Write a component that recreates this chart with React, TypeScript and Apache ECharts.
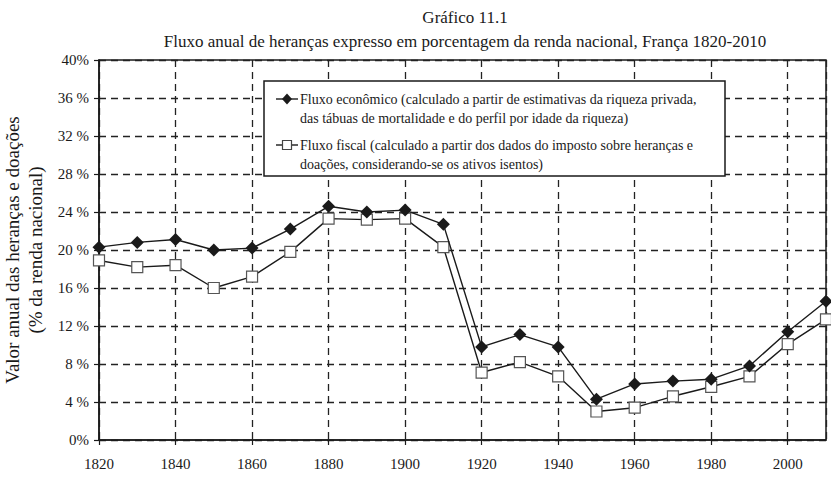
import React, { useEffect, useRef } from "react";
import * as echarts from "echarts";

const years = [1820, 1830, 1840, 1850, 1860, 1870, 1880, 1890, 1900, 1910, 1920, 1930, 1940, 1950, 1960, 1970, 1980, 1990, 2000, 2010];
const economicFlow = [20.3, 20.8, 21.1, 20.0, 20.2, 22.2, 24.6, 24.0, 24.2, 22.7, 9.8, 11.1, 9.8, 4.3, 5.9, 6.2, 6.4, 7.8, 11.4, 14.6];
const fiscalFlow = [18.9, 18.2, 18.4, 16.0, 17.2, 19.8, 23.3, 23.2, 23.3, 20.3, 7.1, 8.2, 6.7, 3.0, 3.4, 4.6, 5.6, 6.7, 10.1, 12.7];

const titleLine1 = "Gráfico 11.1";
const titleLine2 = "Fluxo anual de heranças expresso em porcentagem da renda nacional, França 1820-2010";
const yAxisTitle = "Valor anual das heranças e doações\n(% da renda nacional)";
const economicLabel = "Fluxo econômico (calculado a partir de estimativas da riqueza privada,\ndas tábuas de mortalidade e do perfil por idade da riqueza)";
const fiscalLabel = "Fluxo fiscal (calculado a partir dos dados do imposto sobre heranças e\ndoações, considerando-se os ativos isentos)";

const FONT = "Liberation Serif";
const INK = "#1a1a1a";

export default function App() {
  const ref = useRef<HTMLDivElement>(null);
  useEffect(() => {
    if (!ref.current) return;
    const chart = echarts.init(ref.current, undefined, { renderer: "svg" });
    const econ = years.map((y, i) => [y, economicFlow[i]]);
    const fisc = years.map((y, i) => [y, fiscalFlow[i]]);
    const Z = 100;
    chart.setOption({
      animation: false,
      backgroundColor: "#ffffff",
      textStyle: { fontFamily: FONT, color: INK },
      title: {
        text: titleLine1 + "\n" + titleLine2,
        left: 460,
        top: 0,
        textAlign: "center",
        textStyle: { fontFamily: FONT, fontSize: 17, fontWeight: "normal", color: INK, lineHeight: 24 },
      },
      grid: {
        left: 99,
        right: 5,
        top: 60,
        bottom: 43,
        show: true,
        borderColor: INK,
        borderWidth: 1.5,
        containLabel: false,
        outerBoundsMode: "none",
      },
      xAxis: {
        type: "value",
        min: 1820,
        max: 2010,
        interval: 20,
        axisLine: { show: true, lineStyle: { color: INK, width: 1.5 } },
        axisTick: { show: true, length: 5, lineStyle: { color: INK, width: 1.2 } },
        axisLabel: { fontFamily: FONT, fontSize: 15, color: INK, margin: 16, showMaxLabel: false, formatter: (v: number) => String(v) },
        splitLine: { show: true, lineStyle: { color: "#222", width: 1.3, type: [7, 5] } },
      },
      yAxis: {
        type: "value",
        min: 0,
        max: 40,
        interval: 4,
        name: yAxisTitle,
        nameLocation: "middle",
        nameGap: 36,
        nameRotate: 90,
        nameTextStyle: { fontFamily: FONT, fontSize: 19, color: INK, lineHeight: 23 },
        axisLine: { show: true, lineStyle: { color: INK, width: 1.5 } },
        axisTick: { show: true, length: 5, lineStyle: { color: INK, width: 1.2 } },
        axisLabel: { fontFamily: FONT, fontSize: 15, color: INK, margin: 10, formatter: (v: number) => (v === 0 || v === 40 ? `${v}%` : `${v} %`) },
        splitLine: { show: true, lineStyle: { color: "#222", width: 1.3, type: [7, 5] } },
      },
      series: [
        { name: "Fluxo fiscal", type: "line", data: fisc, clip: false, symbol: "rect", symbolSize: 11, lineStyle: { color: INK, width: 1.4 }, itemStyle: { color: "#ffffff", borderColor: "#555", borderWidth: 1.2 }, z: 3 },
        { name: "Fluxo econômico", type: "line", data: econ, clip: false, symbol: "diamond", symbolSize: 13, lineStyle: { color: INK, width: 1.4 }, itemStyle: { color: INK }, z: 4 },
      ],
      graphic: [
        { type: "rect", z: Z, shape: { x: 264, y: 81, width: 461, height: 95 }, style: { fill: "#ffffff", stroke: INK, lineWidth: 1.5 } },
        { type: "line", z: Z + 1, shape: { x1: 276, y1: 99, x2: 298, y2: 99 }, style: { stroke: INK, lineWidth: 1.4 } },
        { type: "polygon", z: Z + 2, shape: { points: [[287, 93.5], [292, 99], [287, 104.5], [282, 99]] }, style: { fill: INK } },
        { type: "text", z: Z + 1, x: 300, y: 89.5, style: { text: economicLabel, fontFamily: FONT, fontSize: 14, fill: INK, lineHeight: 19, verticalAlign: "top" } },
        { type: "line", z: Z + 1, shape: { x1: 276, y1: 145, x2: 298, y2: 145 }, style: { stroke: INK, lineWidth: 1.4 } },
        { type: "rect", z: Z + 2, shape: { x: 282.5, y: 140.5, width: 9, height: 9 }, style: { fill: "#ffffff", stroke: "#444", lineWidth: 1.2 } },
        { type: "text", z: Z + 1, x: 300, y: 135.5, style: { text: fiscalLabel, fontFamily: FONT, fontSize: 14, fill: INK, lineHeight: 19, verticalAlign: "top" } },
      ],
    });
    return () => chart.dispose();
  }, []);
  return <div ref={ref} style={{ position: "absolute", left: 0, top: 0, width: 831, height: 483 }} />;
}
